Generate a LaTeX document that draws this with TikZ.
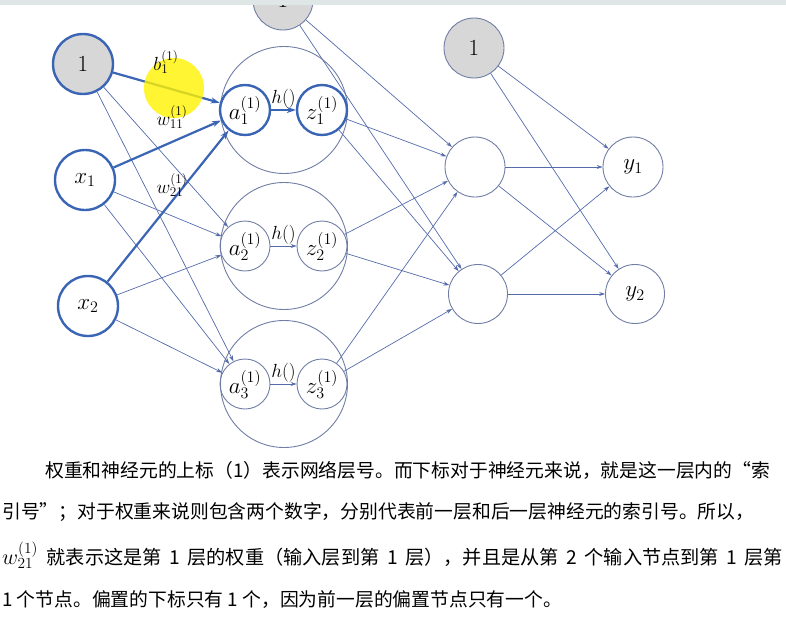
\RequirePackage{fix-cm}
\documentclass[tikz,border=0pt]{standalone}
\usepackage{fontspec}
\newfontfamily\cjk{Noto Sans CJK SC}
\usetikzlibrary{arrows.meta}

\definecolor{azul}{RGB}{58,100,180}
\definecolor{linea}{RGB}{85,108,172}
\definecolor{borde}{RGB}{112,126,165}
\definecolor{gris}{RGB}{215,215,215}
\definecolor{franja}{RGB}{222,230,230}

\tikzset{
  neurona/.style={circle,draw=borde,line width=0.9pt,minimum size=#1,inner sep=0pt,
    font=\fontsize{23}{25}\selectfont},
  neurona/.default=58pt,
  activa/.style={neurona=#1,draw=azul,line width=2.4pt},
  activa/.default=60pt,
  sesgo/.style={fill=gris},
  capa/.style={circle,draw=borde,line width=0.9pt,minimum size=127pt,inner sep=0pt},
  flecha/.style={draw=linea,line width=0.7pt,-{Stealth[length=6pt,width=4pt]}},
  gruesa/.style={draw=azul,line width=2.2pt,-{Stealth[length=9pt,width=6pt]}},
  etiqueta/.style={font=\fontsize{19}{21}\selectfont,inner sep=1pt},
  texto/.style={anchor=west,inner sep=0pt,font=\cjk\fontsize{18.8}{22}\selectfont},
}

\begin{document}
\begin{tikzpicture}[x=1pt,y=-1pt]
\useasboundingbox (0,0) rectangle (786,618);

% Capa de entrada
\node[activa,sesgo] (b0) at (83,64) {$1$};
\node[activa] (x1) at (85,180) {$x_1$};
\node[activa] (x2) at (88,306) {$x_2$};

% Capa oculta 1
\foreach \i/\y in {1/110,2/246,3/384}
  \node[capa] (c\i) at (284,\y) {};
\node[activa=50pt] (a1) at (245,110) {$a_1^{(1)}$};
\node[activa=50pt] (z1) at (322,110) {$z_1^{(1)}$};
\foreach \i/\y in {2/246,3/384}{
  \node[neurona=50pt] (a\i) at (245,\y) {$a_\i^{(1)}$};
  \node[neurona=50pt] (z\i) at (322,\y) {$z_\i^{(1)}$};
}
\node[neurona=60pt,sesgo] (b1) at (283,0) {$1$};

% Capa oculta 2
\node[neurona=60pt,sesgo] (b2) at (474,48) {$1$};
\node[neurona=60pt] (m1) at (475,167) {};
\node[neurona=59pt] (m2) at (478,294) {};

% Capa de salida
\node[neurona=60pt] (y1) at (633,167) {$y_1$};
\node[neurona=59pt] (y2) at (635,294) {$y_2$};

% Conexiones
\foreach \s in {b0,x1,x2}
  \foreach \t in {a2,a3}
    \draw[flecha] (\s) -- (\t);
\foreach \s in {b1,z1,z2,z3}
  \foreach \t in {m1,m2}
    \draw[flecha] (\s) -- (\t);
\foreach \s in {b2,m1,m2}
  \foreach \t in {y1,y2}
    \draw[flecha] (\s) -- (\t);
\foreach \i in {2,3}
  \draw[flecha] (a\i) -- node[above,etiqueta] {$h()$} (z\i);

% Conexiones resaltadas
\draw[gruesa] (b0) -- (a1);
\draw[gruesa] (x1) -- (a1);
\draw[gruesa] (x2) -- (a1);
\draw[gruesa] (a1) -- node[above,etiqueta] {$h()$} (z1);

% Puntero amarillo
\fill[yellow,opacity=0.8] (174,88) circle (30);

% Pesos
\node[etiqueta] (lb) at (166,62) {$b_1^{(1)}$};
\node[etiqueta] (lw1) at (172,117) {$w_{11}^{(1)}$};
\node[etiqueta] (lw2) at (172,185) {$w_{21}^{(1)}$};

% Franja superior
\fill[franja] (0,0) rectangle (786,5);

% Texto
\node[texto] (t1) at (45,470) {权重和神经元的上标（1）表示网络层号。而下标对于神经元来说，就是这一层内的“索};
\node[texto] (t2) at (2,512) {引号”；对于权重来说则包含两个数字，分别代表前一层和后一层神经元的索引号。所以，};
\node[texto] (t3) at (2,555) {\makebox[781pt][s]{\fontsize{22}{24}\selectfont$w_{21}^{(1)}$ \fontsize{19.2}{22}\selectfont 就表示这是第 1 层的权重（输入层到第 1 层），并且是从第 2 个输入节点到第 1 层第}};
\node[texto] (t4) at (2,600) {1 个节点。偏置的下标只有 1 个，因为前一层的偏置节点只有一个。};

\end{tikzpicture}
\end{document}
